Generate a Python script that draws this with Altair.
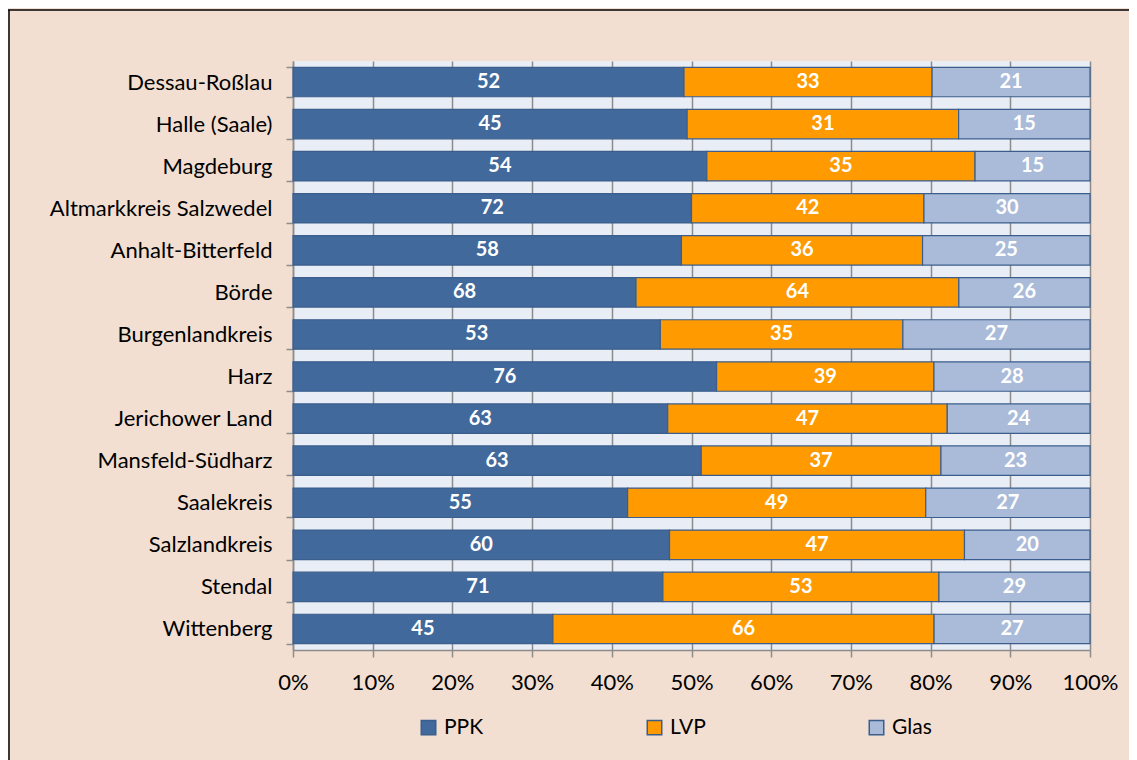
import altair as alt
import pandas as pd

regions = ["Dessau-Roßlau", "Halle (Saale)", "Magdeburg", "Altmarkkreis Salzwedel",
           "Anhalt-Bitterfeld", "Börde", "Burgenlandkreis", "Harz", "Jerichower Land",
           "Mansfeld-Südharz", "Saalekreis", "Salzlandkreis", "Stendal", "Wittenberg"]
ppk = [52, 45, 54, 72, 58, 68, 53, 76, 63, 63, 55, 60, 71, 45]
lvp = [33, 31, 35, 42, 36, 64, 35, 39, 47, 37, 49, 47, 53, 66]
glas = [21, 15, 15, 30, 25, 26, 27, 28, 24, 23, 27, 20, 29, 27]
series = ["PPK", "LVP", "Glas"]
colors = ["#41699C", "#FF9A00", "#AABBD9"]
tick_values = [i / 10 for i in range(11)]

rows = []
for i, r in enumerate(regions):
    for k, (s, vals) in enumerate(zip(series, [ppk, lvp, glas])):
        rows.append({"region": r, "series": s, "value": vals[i], "order": k})
df = pd.DataFrame(rows)

FONT = "Lato"

base = alt.Chart(df).transform_stack(
    stack="value", as_=["v0", "v1"], groupby=["region"],
    sort=[alt.SortField("order", order="ascending")], offset="normalize"
).transform_calculate(mid="(datum.v0 + datum.v1) / 2")

yenc = alt.Y("region:N", sort=regions, title=None,
             scale=alt.Scale(paddingInner=0.3, paddingOuter=0.15),
             axis=alt.Axis(labelFontSize=22, labelColor="#000000", labelFont=FONT,
                           labelLimit=400,
                           tickBand="extent", tickColor="#8C8C8C", tickSize=7,
                           tickWidth=1.5, domainColor="#8C8C8C", domainWidth=1.5,
                           labelPadding=14))

bars = base.mark_bar(stroke="#3B5E8C", strokeWidth=1.2).encode(
    x=alt.X("v0:Q", title=None,
            scale=alt.Scale(domain=[0, 1], nice=False),
            axis=alt.Axis(format="%", values=tick_values, labelFontSize=22,
                          labelColor="#000000", labelFont=FONT, tickSize=7,
                          labelFlush=False,
                          tickColor="#8C8C8C", tickWidth=1.5, grid=True,
                          gridColor="#8C8C8C", gridWidth=1.5,
                          domainColor="#8C8C8C", domainWidth=1.5, labelPadding=15)),
    x2="v1:Q",
    y=yenc,
    color=alt.Color("series:N", scale=alt.Scale(domain=series, range=colors),
                    legend=alt.Legend(orient="none", legendX=125, legendY=656,
                                      direction="horizontal", title=None,
                                      labelFontSize=21, labelFont=FONT,
                                      labelColor="#000000",
                                      symbolType="square", symbolSize=210,
                                      symbolStrokeColor="#3B5E8C",
                                      symbolStrokeWidth=1.5, symbolOpacity=1,
                                      columnPadding=160, labelOffset=5)),
)

labels = base.mark_text(color="white", fontWeight="bold", fontSize=20, font=FONT).encode(
    x="mid:Q",
    y=alt.Y("region:N", sort=regions),
    text="value:Q",
)

frame_df = pd.DataFrame({"k": [0]})
top_line = alt.Chart(frame_df).mark_rule(color="#000000", strokeWidth=1.5).encode(
    x=alt.value(-285), x2=alt.value(900), y=alt.value(-51))
left_line = alt.Chart(frame_df).mark_rule(color="#000000", strokeWidth=1.5).encode(
    x=alt.value(-284), y=alt.value(-51), y2=alt.value(760))

chart = alt.layer(bars, labels, top_line, left_line).properties(
    width=797, height=589,
    autosize=alt.AutoSizeParams(type="none"),
    padding={"left": 285, "top": 53, "right": 39, "bottom": 110},
    background="#F2DFD1",
).configure_view(fill="#E9EDF5", stroke=None)

chart.save("out.html", embed_options={"renderer": "svg", "actions": False})
